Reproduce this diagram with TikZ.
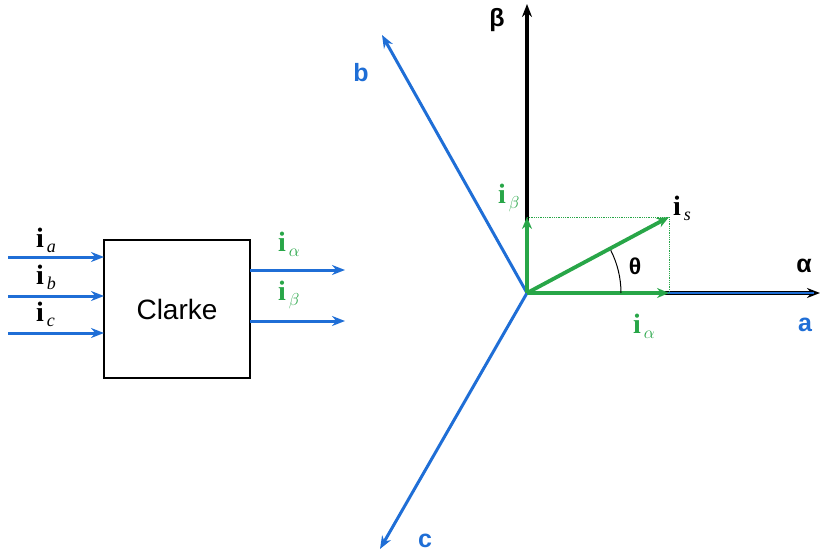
\documentclass[tikz,border=0pt]{standalone}
\usepackage{fontspec}
\setmainfont{Liberation Serif}
\setsansfont{Liberation Sans}
\usetikzlibrary{arrows.meta}
\definecolor{cblue}{RGB}{31,110,214}
\definecolor{cgreen}{RGB}{40,166,72}
\tikzset{
  bl/.style={draw=cblue,line width=3pt,-{Stealth[length=13pt,width=10pt]}},
  bk/.style={draw=black,line width=3.4pt,-{Stealth[length=13pt,width=10pt]}},
  gr/.style={draw=cgreen,line width=3.8pt,-{Stealth[length=12pt,width=10pt]}},
  ilab/.style={inner sep=0pt,font=\fontsize{28}{30}\selectfont},
  axlab/.style={inner sep=0pt,font=\fontsize{25}{27}\selectfont\sffamily\bfseries},
}
\newcommand{\cur}[2]{\textbf{i}\raisebox{-5pt}{\fontsize{18}{19}\selectfont\itshape\,#2}}
\newcommand{\gcur}[1]{\textbf{i}\raisebox{-5pt}{\fontsize{18}{19}\selectfont$\,#1$}}
\begin{document}
\begin{tikzpicture}[x=1pt,y=-1pt]
\useasboundingbox (0,0) rectangle (820,557);
% block
\node[draw,line width=2.4pt,minimum width=146pt,minimum height=138pt,inner sep=0pt,font=\fontsize{28}{30}\selectfont\sffamily] (blk) at (177,309) {Clarke};
\coordinate (ia0) at (8,257); \coordinate (ia1) at (104,257);
\coordinate (ib0) at (8,296); \coordinate (ib1) at (104,296);
\coordinate (ic0) at (8,333); \coordinate (ic1) at (104,333);
\coordinate (oa0) at (250,270); \coordinate (oa1) at (345,270);
\coordinate (ob0) at (250,321); \coordinate (ob1) at (345,321);
\draw[bl] (ia0) -- (ia1);
\draw[bl] (ib0) -- (ib1);
\draw[bl] (ic0) -- (ic1);
\draw[bl] (oa0) -- (oa1);
\draw[bl] (ob0) -- (ob1);
\node[ilab,anchor=west] (lia) at (36,240) {\cur{}{a}};
\node[ilab,anchor=west] (lib) at (36,277) {\cur{}{b}};
\node[ilab,anchor=west] (lic) at (36,314) {\cur{}{c}};
\node[ilab,anchor=west,text=cgreen] (lal) at (278,244) {\gcur{\alpha}};
\node[ilab,anchor=west,text=cgreen] (lbe) at (278,295) {\gcur{\beta}};
% vector diagram
\coordinate (O) at (527,293);
\coordinate (Beta) at (527,4);
\coordinate (Alpha) at (820,293);
\coordinate (A) at (814,293);
\coordinate (B) at (382,35);
\coordinate (C) at (380,549);
\coordinate (IA) at (669,293);
\coordinate (IB) at (527,217);
\coordinate (IS) at (669,217);
\draw[bk] (O) -- (Beta);
\draw[bk] (O) -- (Alpha);
\draw[draw=cblue,line width=2pt] (O) -- (A);
\draw[bl] (O) -- (B);
\draw[bl] (O) -- (C);
\draw[cgreen,densely dotted,line width=0.8pt] (IB) -- (IS) -- (IA);
\draw[gr] (O) -- (IA);
\draw[gr] (O) -- (IB);
\draw[gr] (O) -- (IS);
\draw[line width=1pt] ([shift={(0:94)}]O) arc[start angle=0,end angle=-27,radius=94];
\node[axlab] (lbeta) at (497,20) {β};
\node[axlab,text=cblue] (lb) at (361,73) {b};
\node[axlab] (lalpha) at (804,266) {α};
\node[axlab,text=cblue] (la) at (805,325) {a};
\node[axlab,text=cblue] (lc) at (425,541) {c};
\node[axlab,font=\fontsize{23}{25}\selectfont\sffamily\bfseries] (lth) at (635,266) {θ};
\node[ilab,anchor=west] (lis) at (673,208) {\cur{}{s}};
\node[ilab,anchor=west,text=cgreen] (lib2) at (498,198) {\gcur{\beta}};
\node[ilab,anchor=west,text=cgreen] (lia2) at (633,326) {\gcur{\alpha}};
\end{tikzpicture}
\end{document}
